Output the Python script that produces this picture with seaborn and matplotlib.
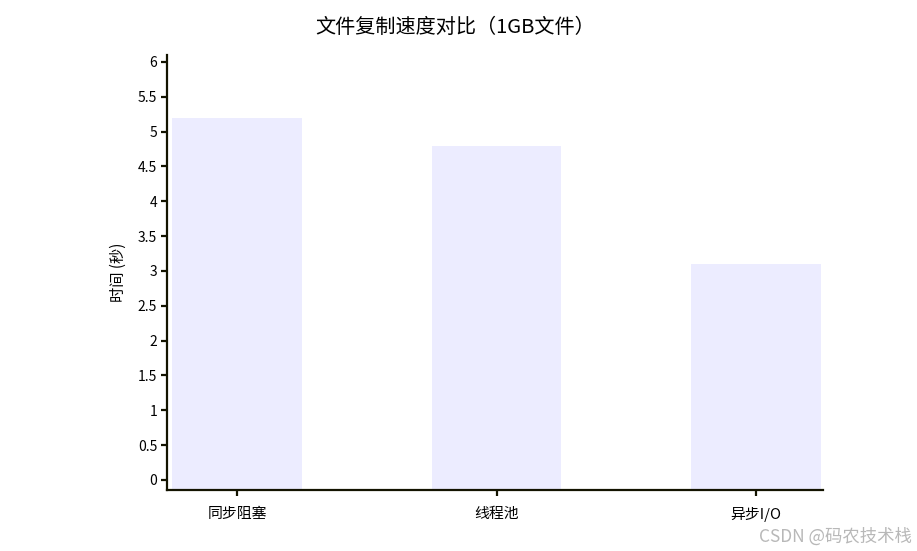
import matplotlib
matplotlib.use("Agg")
import matplotlib.pyplot as plt
import seaborn as sns
import numpy as np
import pandas as pd

categories = ["同步阻塞", "线程池", "异步I/O"]
times = [5.2, 4.8, 3.1]
yticks = [0, 0.5, 1, 1.5, 2, 2.5, 3, 3.5, 4, 4.5, 5, 5.5, 6]
ytick_labels = ["0", "0.5", "1", "1.5", "2", "2.5", "3", "3.5", "4", "4.5", "5", "5.5", "6"]

sns.set_theme(style="white")
plt.rcParams['font.family'] = ['Noto Sans CJK SC', 'DejaVu Sans']

axis_color = "#131300"
bar_color = "#ECECFF"

fig = plt.figure(figsize=(9.17, 5.51), dpi=100)
ax = fig.add_axes([0.1821, 0.1107, 0.7154, 0.7895])

df = pd.DataFrame({"cat": categories, "t": times})
sns.barplot(data=df, x="cat", y="t", color=bar_color, saturation=1, width=0.5, ax=ax)

y0 = -0.145
for p in ax.patches:
    h = p.get_height()
    p.set_y(y0)
    p.set_height(h - y0)
    p.set_edgecolor("none")

ax.set_ylim(y0, 6.1)
ax.set_xlim(-0.27, 2.258)
ax.set_yticks(yticks)
ax.set_yticklabels(ytick_labels)

for s in ["top", "right"]:
    ax.spines[s].set_visible(False)
for s in ["left", "bottom"]:
    ax.spines[s].set_color(axis_color)
    ax.spines[s].set_linewidth(1.6)

ax.tick_params(axis="y", which="major", length=4, width=1.6, color=axis_color,
               labelsize=10, labelcolor="#000000", pad=3, left=True)
ax.tick_params(axis="x", which="major", length=4, width=1.6, color=axis_color,
               labelsize=10.7, labelcolor="#000000", pad=8, bottom=True)
ax.set_xlabel("")
ax.set_ylabel("时间 (秒)", fontsize=11, color="#000000", labelpad=8)

fig.text(0.496, 0.950, "文件复制速度对比（1GB文件）", ha="center", va="center",
         fontsize=14.5, color="#000000")

fig.text(0.994, 0.026, "CSDN @码农技术栈", ha="right", va="center",
         fontsize=12.5, color="#b8b8b8")

fig.savefig("out.png", dpi=100, facecolor="white")
